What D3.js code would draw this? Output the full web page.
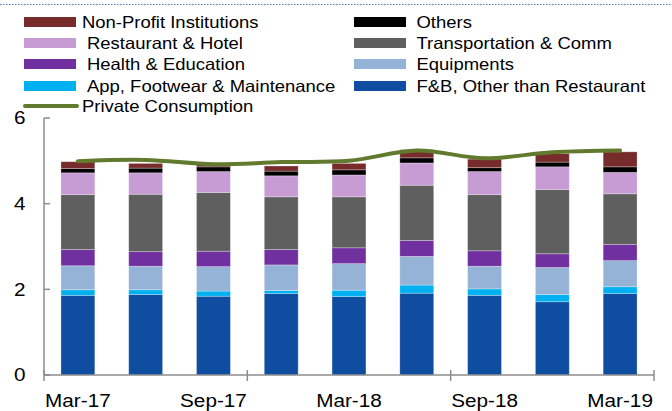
<!DOCTYPE html>
<html>
<head>
<meta charset="utf-8">
<script src="https://cdn.jsdelivr.net/npm/d3@7"></script>
<style>
  body { margin: 0; background: #fff; }
  svg { display: block; }
</style>
</head>
<body>
<div id="chart"></div>
<script>
// quarters and contributions
const quarters = ["Mar-17","Jun-17","Sep-17","Dec-17","Mar-18","Jun-18","Sep-18","Dec-18","Mar-19"];
const fnb        = [1.86, 1.88, 1.84, 1.90, 1.83, 1.91, 1.86, 1.71, 1.90];
const apparel    = [0.13, 0.11, 0.12, 0.07, 0.15, 0.19, 0.15, 0.17, 0.16];
const equipments = [0.56, 0.55, 0.57, 0.60, 0.62, 0.67, 0.53, 0.63, 0.61];
const health     = [0.38, 0.34, 0.36, 0.36, 0.37, 0.37, 0.36, 0.32, 0.38];
const transport  = [1.28, 1.34, 1.37, 1.23, 1.19, 1.29, 1.31, 1.50, 1.18];
const restaurant = [0.51, 0.50, 0.49, 0.49, 0.51, 0.52, 0.54, 0.53, 0.50];
const others     = [0.10, 0.11, 0.11, 0.11, 0.12, 0.12, 0.09, 0.11, 0.13];
const nonProfit  = [0.16, 0.11, 0.05, 0.12, 0.15, 0.19, 0.20, 0.20, 0.35];
const privateConsumption = [4.99, 5.02, 4.92, 4.97, 5.00, 5.24, 5.06, 5.20, 5.24];
const yTicks = [0, 2, 4, 6];
const xLabels = ["Mar-17","Sep-17","Mar-18","Sep-18","Mar-19"];

// stack order, bottom to top
const series = [
  {key: "fnb",        name: "F&B, Other than Restaurant",  values: fnb,        color: "#0e4da0"},
  {key: "apparel",    name: "App, Footwear & Maintenance", values: apparel,    color: "#00b0f0"},
  {key: "equipments", name: "Equipments",                  values: equipments, color: "#95b3d7"},
  {key: "health",     name: "Health & Education",          values: health,     color: "#7030a0"},
  {key: "transport",  name: "Transportation & Comm",       values: transport,  color: "#5f5f5f"},
  {key: "restaurant", name: "Restaurant & Hotel",          values: restaurant, color: "#c79bd3"},
  {key: "others",     name: "Others",                      values: others,     color: "#000000"},
  {key: "nonProfit",  name: "Non-Profit Institutions",     values: nonProfit,  color: "#782b2b"}
];

const width = 672, height = 411;
const margin = {left: 44, right: 18, top: 118, bottom: 36};
const stretch = 1.12; // the source text is a little wide

const svg = d3.select("#chart").append("svg")
  .attr("width", width)
  .attr("height", height)
  .attr("font-family", "Liberation Sans, Arial, sans-serif");

// places a text at (px,py), widened a bit horizontally
function wideText(sel, px, py) {
  return sel.attr("transform", (d, i) => {
    const tx = typeof px === "function" ? px(d, i) : px;
    const ty = typeof py === "function" ? py(d, i) : py;
    return `translate(${tx},${ty}) scale(${stretch},1)`;
  });
}

// dotted rule left over at the top of the clip
svg.append("line")
  .attr("x1", 0).attr("x2", width)
  .attr("y1", 4.5).attr("y2", 4.5)
  .attr("stroke", "#4a78c0")
  .attr("stroke-width", 1)
  .attr("stroke-dasharray", "1.5,1.5");

const x = d3.scaleBand()
  .domain(quarters)
  .range([margin.left, width - margin.right])
  .paddingInner(0.5)
  .paddingOuter(0.25);

const y = d3.scaleLinear()
  .domain([0, 6])
  .range([height - margin.bottom, margin.top]);

// build the table for d3.stack from the arrays
const table = quarters.map((q, i) => {
  const row = {quarter: q};
  series.forEach(s => row[s.key] = s.values[i]);
  return row;
});
const stacked = d3.stack().keys(series.map(s => s.key))(table);

svg.append("g")
  .selectAll("g")
  .data(stacked)
  .join("g")
    .attr("fill", (d, i) => series[i].color)
  .selectAll("rect")
  .data(d => d)
  .join("rect")
    .attr("x", d => x(d.data.quarter))
    .attr("width", x.bandwidth())
    .attr("y", d => y(d[1]))
    .attr("height", d => y(d[0]) - y(d[1]))
    .attr("stroke", "#ffffff")
    .attr("stroke-opacity", 0.35)
    .attr("stroke-width", 0.8);

// axes
const axisColor = "#8c8c8c";
const yAxis = svg.append("g");
yAxis.append("line")
  .attr("x1", margin.left).attr("x2", margin.left)
  .attr("y1", y(6)).attr("y2", y(0))
  .attr("stroke", axisColor).attr("stroke-width", 1.5);
yAxis.selectAll(".tick")
  .data(yTicks)
  .join("line")
    .attr("x1", margin.left).attr("x2", margin.left + 6)
    .attr("y1", d => y(d)).attr("y2", d => y(d))
    .attr("stroke", axisColor).attr("stroke-width", 1.5);
yAxis.selectAll("text")
  .data(yTicks)
  .join("text")
    .call(wideText, 25.5, d => y(d))
    .attr("dy", "0.35em")
    .attr("text-anchor", "end")
    .attr("font-size", 18.5)
    .attr("fill", "#000")
    .text(d => d);

const x0 = x.range()[0], x1 = x.range()[1];
const xAxis = svg.append("g");
xAxis.append("line")
  .attr("x1", x0).attr("x2", x1)
  .attr("y1", y(0)).attr("y2", y(0))
  .attr("stroke", axisColor).attr("stroke-width", 1.5);
// tick marks every third category boundary
const step = x.step();
xAxis.selectAll(".tick")
  .data(d3.range(0, quarters.length + 1, 3))
  .join("line")
    .attr("x1", d => x0 + d * step).attr("x2", d => x0 + d * step)
    .attr("y1", y(0) - 5).attr("y2", y(0) + 6)
    .attr("stroke", axisColor).attr("stroke-width", 1.5);
xAxis.selectAll("text")
  .data(xLabels)
  .join("text")
    .call(wideText, d => x(d) + x.bandwidth() / 2, y(0) + 31.5)
    .attr("text-anchor", "middle")
    .attr("font-size", 18.5)
    .attr("fill", "#000")
    .text(d => d);

// private consumption line
const line = d3.line()
  .x((d, i) => x(quarters[i]) + x.bandwidth() / 2)
  .y(d => y(d))
  .curve(d3.curveCatmullRom.alpha(0.5));

svg.append("path")
  .datum(privateConsumption)
  .attr("fill", "none")
  .attr("stroke", "#627a2e")
  .attr("stroke-width", 4)
  .attr("stroke-linecap", "round")
  .attr("d", line);

// legend: two columns, reversed stack order
const legendItems = [
  {s: series[7], col: 0, row: 0, pad: 0},
  {s: series[6], col: 1, row: 0, pad: 0},
  {s: series[5], col: 0, row: 1, pad: 5},
  {s: series[4], col: 1, row: 1, pad: 0},
  {s: series[3], col: 0, row: 2, pad: 5},
  {s: series[2], col: 1, row: 2, pad: 0},
  {s: series[1], col: 0, row: 3, pad: 5},
  {s: series[0], col: 1, row: 3, pad: 0}
];
const colX = [24, 354];
const rowY = [22, 43, 64, 86];

const legend = svg.append("g").attr("font-size", 16.5);
const item = legend.selectAll("g")
  .data(legendItems)
  .join("g")
    .attr("transform", d => `translate(${colX[d.col]},${rowY[d.row]})`);
item.append("rect")
  .attr("x", 0).attr("y", -5)
  .attr("width", 52).attr("height", 10)
  .attr("fill", d => d.s.color);
item.append("text")
  .call(wideText, d => d.col === 0 ? 58 + d.pad : 62.5, 0)
  .attr("dy", "0.35em")
  .attr("fill", "#000")
  .text(d => d.s.name);

const lineItem = legend.append("g").attr("transform", "translate(24,106)");
lineItem.append("line")
  .attr("x1", 1).attr("x2", 53)
  .attr("stroke", "#627a2e")
  .attr("stroke-width", 4)
  .attr("stroke-linecap", "round");
lineItem.append("text")
  .call(wideText, 58, 0)
  .attr("dy", "0.35em")
  .attr("fill", "#000")
  .text("Private Consumption");
</script>
</body>
</html>
